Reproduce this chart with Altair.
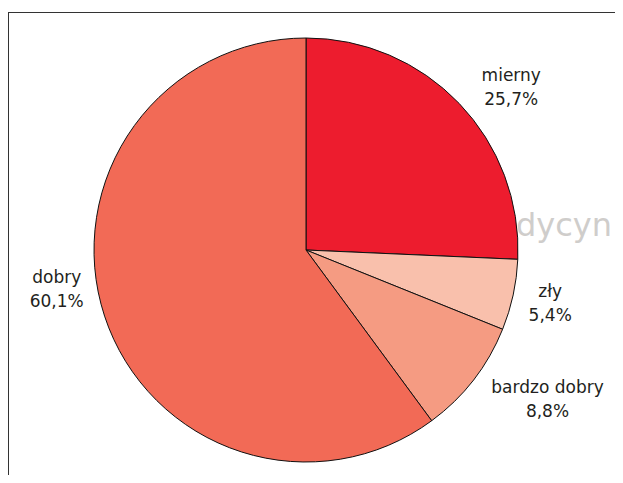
import altair as alt
import pandas as pd
import math

categories = ["mierny", "zły", "bardzo dobry", "dobry"]
values = [25.7, 5.4, 8.8, 60.1]
pct_labels = ["25,7%", "5,4%", "8,8%", "60,1%"]
colors = ["#ED1C2E", "#F9C0AC", "#F59B82", "#F26A56"]

df = pd.DataFrame({
    "cat": categories,
    "value": values,
    "idx": list(range(len(categories))),
    "lab": [f"{c}\n{p}" for c, p in zip(categories, pct_labels)],
})

W, H = 607, 467
CX, CY = 298, 242
R = 212
FONT = "DejaVu Sans"

theta_scale = alt.Scale(domain=[0, 100], range=[0, 2 * math.pi])
base = alt.Chart(df)

pie = base.mark_arc(outerRadius=R, stroke="#111111", strokeWidth=1).encode(
    theta=alt.Theta("value:Q", stack=True, scale=theta_scale),
    order=alt.Order("idx:Q"),
    color=alt.Color("cat:N", scale=alt.Scale(domain=categories, range=colors), legend=None),
    x=alt.value(CX),
    y=alt.value(CY),
)

watermark = alt.Chart(pd.DataFrame({"t": ["dycyn"]})).mark_text(
    align="left", baseline="alphabetic", fontSize=32, font=FONT, color="#cfcdcb"
).encode(text="t:N", x=alt.value(508), y=alt.value(228))

frame_left = alt.Chart(pd.DataFrame({"a": [0]})).mark_rule(color="#333333", strokeWidth=1).encode(
    x=alt.value(0.5), y=alt.value(4), y2=alt.value(H)
)
frame_top = alt.Chart(pd.DataFrame({"a": [0]})).mark_rule(color="#333333", strokeWidth=1).encode(
    x=alt.value(0), x2=alt.value(W), y=alt.value(4.5)
)

nudges = {"mierny": (21, 2), "zły": (-5, -12), "bardzo dobry": (40, -18), "dobry": (-7, -52)}
text_layers = []
for c in categories:
    dx, dy = nudges[c]
    t = base.transform_window(
        cum="sum(value)", sort=[alt.SortField("idx")], frame=[None, 0]
    ).transform_calculate(
        mid="datum.cum - datum.value / 2"
    ).transform_filter(
        alt.datum.cat == c
    ).mark_text(
        align="center", baseline="middle", lineBreak="\n", fontSize=17, font=FONT,
        color="#231F20", lineHeight=24, dx=dx, dy=dy
    ).encode(
        theta=alt.Theta("mid:Q", stack=False, scale=theta_scale),
        radius=alt.value(255),
        text="lab:N",
        x=alt.value(CX),
        y=alt.value(CY),
    )
    text_layers.append(t)

chart = alt.layer(watermark, pie, frame_left, frame_top, *text_layers).properties(
    width=W, height=H, autosize=alt.AutoSizeParams(type="none"), padding=0
).configure_view(stroke=None)

chart.save("out.html", embed_options={"renderer": "svg", "actions": False})
